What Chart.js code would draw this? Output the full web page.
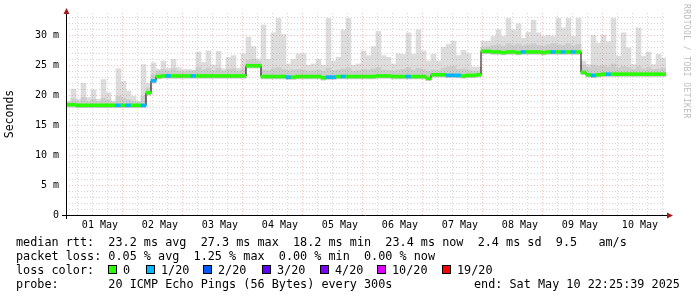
<!DOCTYPE html>
<html>
<head>
<meta charset="utf-8">
<script src="https://cdn.jsdelivr.net/npm/chart.js@4.4.1/dist/chart.umd.min.js"></script>
<style>
  html, body { margin: 0; padding: 0; background: #fff; }
  #wrap { position: relative; width: 697px; height: 297px; overflow: hidden; font-family: "DejaVu Sans Mono", monospace; }
  canvas { position: absolute; left: 0; top: 0; }
  .ln { position: absolute; font-size: 11.8px; line-height: 14px; white-space: pre; color: #000; }
  .sw { position: absolute; width: 9px; height: 9px; border: 1px solid #000; box-sizing: border-box; }
  .wm { position: absolute; left: 682px; top: 4px; writing-mode: vertical-rl; font-size: 8px; color: #bbb; letter-spacing: 0.4px; }
</style>
</head>
<body>
<div id="wrap">
  <canvas id="smokeChart" width="697" height="297"></canvas>
  <div class="wm">RRDTOOL / TOBI OETIKER</div>
  <div id="legend"></div>
</div>
<script>
// time window in hours relative to 01 May 00:00, 2 h per smoke column
const START_H = -1.5725;
const END_H = 238.4275;
const BIN_H = 2;

const dayLabels = ["01 May", "02 May", "03 May", "04 May", "05 May", "06 May", "07 May", "08 May", "09 May", "10 May"];
const yLabels = { 0: "0", 5: "5 m", 10: "10 m", 15: "15 m", 20: "20 m", 25: "25 m", 30: "30 m" };

// median rtt per column (ms)
const median = [
  18.4, 18.4, 18.3, 18.3, 18.3, 18.3, 18.3, 18.3, 18.3, 18.3, 18.3, 18.3, 18.3, 18.3, 18.3, 18.3,
  20.4, 22.4,
  23.1, 23.2, 23.2, 23.2, 23.2, 23.2, 23.2, 23.2, 23.2, 23.2, 23.2, 23.2, 23.2, 23.2, 23.2, 23.2, 23.2, 23.2,
  24.9, 24.9, 24.9,
  23.1, 23.1, 23.1, 23.1, 23.1, 23.0, 23.0, 23.1, 23.1, 23.1, 23.1, 23.1,
  22.9, 23.0, 23.0, 23.1, 23.1, 23.1, 23.1, 23.1, 23.1, 23.1, 23.1, 23.2,
  23.2, 23.2, 23.1, 23.1, 23.1, 23.1, 23.1, 23.1, 23.1, 22.8, 23.4, 23.4,
  23.4, 23.3, 23.3, 23.3, 23.2, 23.3, 23.3, 23.4,
  27.3, 27.3, 27.2, 27.2, 27.1, 27.2, 27.2, 27.1, 27.2, 27.2, 27.2, 27.2, 27.1, 27.2, 27.2, 27.2, 27.2, 27.2, 27.2, 27.2,
  23.8,
  23.4, 23.3, 23.4, 23.5, 23.5, 23.5, 23.5, 23.5, 23.5, 23.5, 23.5, 23.5, 23.5, 23.5, 23.5, 23.5,
];

// dense smoke (upper quartile-ish)
const smokeMid = [
  18.9, 19.4, 18.9, 19.6, 18.9, 19.3, 18.9, 19.5, 19.2, 18.8, 19.8, 19.5, 19.2, 18.9, 18.8, 19.8,
  21.2, 23.5,
  24.0, 24.3, 24.0, 24.4, 24.0, 23.9, 24.0, 24.1, 24.6, 24.2, 24.5, 24.1, 24.5, 24.0, 24.3, 24.4, 24.0, 24.4,
  25.8, 26.0, 25.6,
  24.2, 24.1, 24.4, 24.6, 24.3, 24.1, 24.2, 24.3, 24.2, 24.0, 24.1, 24.2,
  24.0, 24.5, 24.1, 24.2, 24.4, 24.5, 24.0, 24.1, 24.3, 24.2, 24.4, 24.6,
  24.2, 24.1, 24.0, 24.2, 24.3, 24.6, 24.2, 24.5, 24.3, 24.0, 24.2, 24.1,
  24.5, 24.7, 24.8, 24.3, 24.4, 24.2, 24.0, 24.0,
  28.0, 28.1, 28.3, 28.4, 28.2, 28.6, 28.3, 28.5, 28.2, 28.4, 28.6, 28.3, 28.2, 28.4, 28.6, 28.4, 28.3, 28.6, 28.2, 28.5,
  25.0,
  24.6, 25.0, 24.8, 24.9, 24.7, 25.2, 24.5, 24.8, 24.6, 24.3, 24.8, 24.4, 24.6, 24.3, 24.4, 24.5,
];

// max ping per column
const smokeMax = [
  18.8, 21.0, 19.3, 22.0, 19.6, 20.9, 19.3, 22.6, 20.4, 19.0,
  24.4, 22.3, 20.7, 19.8, 19.0, 25.1, 22.0, 25.4, 24.3, 25.7,
  24.5, 26.0, 24.6, 24.3, 24.3, 24.2, 27.2, 25.5, 27.4, 25.0,
  27.3, 24.4, 26.3, 26.6, 24.5, 26.9, 29.7, 28.1, 26.0, 31.7,
  26.0, 30.4, 32.8, 30.1, 25.2, 26.0, 26.9, 26.9, 25.0, 25.2,
  26.0, 25.0, 32.8, 25.7, 26.3, 30.9, 32.8, 25.0, 25.2, 27.4,
  26.6, 28.1, 30.6, 26.6, 26.3, 25.2, 26.9, 26.8, 30.4, 26.8,
  30.9, 27.4, 25.7, 26.8, 25.7, 28.0, 28.5, 29.0, 26.6, 27.5,
  26.9, 24.7, 24.7, 29.0, 29.0, 29.8, 30.9, 29.8, 32.8, 30.9,
  31.9, 29.5, 30.5, 32.5, 30.4, 29.8, 30.0, 29.8, 32.8, 31.2,
  32.8, 29.8, 32.8, 25.7, 25.1, 30.0, 28.7, 30.0, 28.9, 32.8,
  26.5, 30.4, 27.9, 25.1, 31.2, 26.5, 27.2, 25.1, 26.8, 26.2,
];

// columns that lost 1 of 20 pings
const loss1Cols = [10, 12, 15, 17, 20, 25, 44, 52, 53, 55, 68, 76, 77, 78, 91, 97, 99, 101, 105, 108];

const lossLabels = ["0", "1/20", "2/20", "3/20", "4/20", "10/20", "19/20"];
const lossColors = ["#26ff00", "#00b8ff", "#0059ff", "#5e00ff", "#7e00ff", "#dd00ff", "#ff0000"];

const FONT = "'DejaVu Sans Mono', monospace";
const MAJOR = "rgba(225, 100, 100, 0.42)";
const MINOR = "rgba(150, 150, 150, 0.4)";

const binX = (i) => START_H + BIN_H * i + BIN_H / 2;
const lossColor = (i) => (loss1Cols.includes(i) ? lossColors[1] : lossColors[0]);

const barBase = { type: "bar", grouped: false, barPercentage: 1, categoryPercentage: 1, borderWidth: 0 };

// axis lines + arrows in rrdtool style
const axisPlugin = {
  id: "rrdAxes",
  afterDraw(chart) {
    const { ctx, chartArea: a } = chart;
    ctx.save();
    ctx.strokeStyle = "#000";
    ctx.lineWidth = 1;
    ctx.beginPath();
    ctx.moveTo(a.left + 0.5, a.bottom + 4);
    ctx.lineTo(a.left + 0.5, a.top - 2);
    ctx.moveTo(a.left - 4, a.bottom + 0.5);
    ctx.lineTo(a.right + 3, a.bottom + 0.5);
    ctx.stroke();
    ctx.fillStyle = "#a01c1c";
    ctx.beginPath();
    ctx.moveTo(a.left + 0.5, a.top - 5);
    ctx.lineTo(a.left - 2.5, a.top + 1);
    ctx.lineTo(a.left + 3.5, a.top + 1);
    ctx.fill();
    ctx.beginPath();
    ctx.moveTo(a.right + 7, a.bottom + 0.5);
    ctx.lineTo(a.right + 1, a.bottom - 2.5);
    ctx.lineTo(a.right + 1, a.bottom + 3.5);
    ctx.fill();
    ctx.restore();
  },
};

new Chart(document.getElementById("smokeChart"), {
  type: "bar",
  data: {
    datasets: [
      {
        ...barBase,
        order: 4,
        data: smokeMax.map((v, i) => ({ x: binX(i), y: [median[i], v] })),
        backgroundColor: "#dddddd",
      },
      {
        ...barBase,
        order: 3,
        data: smokeMid.map((v, i) => ({ x: binX(i), y: [median[i] - 0.4, v] })),
        backgroundColor: "#cccccc",
      },
      {
        type: "line",
        order: 2,
        data: median.map((v, i) => ({ x: binX(i), y: v })),
        stepped: "middle",
        borderColor: "#000",
        borderWidth: 1,
        pointRadius: 0,
      },
      {
        ...barBase,
        order: 1,
        data: median.map((v, i) => ({ x: binX(i), y: [v - 0.24, v + 0.24] })),
        backgroundColor: median.map((v, i) => lossColor(i)),
      },
    ],
  },
  options: {
    responsive: false,
    animation: false,
    events: [],
    layout: { padding: { left: 0, top: 10, right: 31, bottom: 60 } },
    plugins: { legend: { display: false }, tooltip: { enabled: false } },
    scales: {
      x: {
        type: "linear",
        min: START_H,
        max: END_H,
        offset: false,
        afterBuildTicks: (s) => {
          const t = [];
          for (let h = 0; h <= 234; h += 6) t.push({ value: h });
          s.ticks = t;
        },
        afterFit: (s) => { s.height = 22; },
        ticks: {
          autoSkip: false,
          maxRotation: 0,
          padding: 4,
          color: "#000",
          font: { family: FONT, size: 10 },
          callback: (v) => (v % 24 === 12 ? dayLabels[Math.floor(v / 24)] : ""),
        },
        grid: { drawTicks: false, z: 1, color: (c) => (c.tick && c.tick.value % 24 === 0 ? MAJOR : MINOR) },
        border: { display: false, dash: [1, 2] },
      },
      y: {
        min: 0,
        max: 33.7,
        afterBuildTicks: (s) => {
          const t = [];
          for (let v = 0; v <= 33; v++) t.push({ value: v });
          s.ticks = t;
        },
        afterFit: (s) => { s.width = 66; },
        ticks: {
          autoSkip: false,
          padding: 7,
          color: "#000",
          font: { family: FONT, size: 10 },
          callback: (v) => (yLabels[v] !== undefined ? yLabels[v] : ""),
        },
        title: { display: true, text: "Seconds", color: "#000", font: { family: FONT, size: 11.5 }, padding: { top: 3, bottom: 0 } },
        grid: { drawTicks: false, z: 1, color: (c) => (c.tick && c.tick.value % 5 === 0 ? MAJOR : MINOR) },
        border: { display: false, dash: [1, 2] },
      },
    },
  },
  plugins: [axisPlugin],
});

// text legend below the graph
const legend = document.getElementById("legend");
function addText(txt, x, y) {
  const d = document.createElement("div");
  d.className = "ln";
  d.style.left = x + "px";
  d.style.top = y + "px";
  d.textContent = txt;
  legend.appendChild(d);
}
addText("median rtt:  23.2 ms avg  27.3 ms max  18.2 ms min  23.4 ms now  2.4 ms sd  9.5   am/s", 16, 235);
addText("packet loss: 0.05 % avg  1.25 % max  0.00 % min  0.00 % now", 16, 249);
addText("loss color:", 16, 263);
addText("probe:       20 ICMP Echo Pings (56 Bytes) every 300s", 16, 277);
addText("end: Sat May 10 22:25:39 2025", 474, 277);

const swatchX = [108, 146, 203, 262, 320, 377, 442];
lossLabels.forEach((lbl, i) => {
  const s = document.createElement("div");
  s.className = "sw";
  s.style.left = swatchX[i] + "px";
  s.style.top = "265px";
  s.style.background = lossColors[i];
  legend.appendChild(s);
  addText(lbl, swatchX[i] + 15, 263);
});
</script>
</body>
</html>
